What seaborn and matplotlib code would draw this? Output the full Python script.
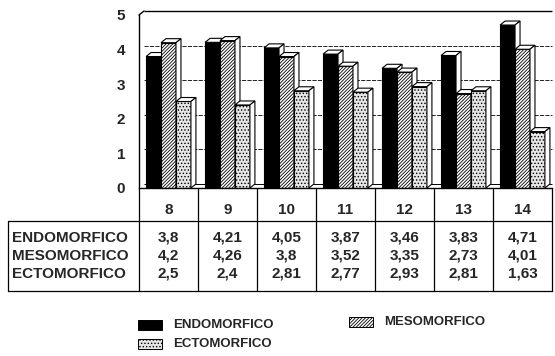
import numpy as np
import pandas as pd
import matplotlib
matplotlib.use("Agg")
import matplotlib.pyplot as plt
from matplotlib.patches import Polygon, Rectangle
from matplotlib.lines import Line2D
import seaborn as sns

# --- data -------------------------------------------------------------
edades = ["8", "9", "10", "11", "12", "13", "14"]
series = ["ENDOMORFICO", "MESOMORFICO", "ECTOMORFICO"]
endomorfico = [3.8, 4.21, 4.05, 3.87, 3.46, 3.83, 4.71]
mesomorfico = [4.2, 4.26, 3.8, 3.52, 3.35, 2.73, 4.01]
ectomorfico = [2.5, 2.4, 2.81, 2.77, 2.93, 2.81, 1.63]
y_ticks = [0, 1, 2, 3, 4, 5]

valores = [endomorfico, mesomorfico, ectomorfico]
df = pd.DataFrame({
    "edad": np.repeat([edades], 3, axis=0).ravel(),
    "tipo": np.repeat(series, len(edades)),
    "valor": np.concatenate(valores),
})

# --- style ------------------------------------------------------------
sns.set_theme(style="white")
plt.rcParams["font.family"] = ["Liberation Sans", "DejaVu Sans"]
plt.rcParams["font.weight"] = "bold"
plt.rcParams["hatch.linewidth"] = 0.6

W, H = 555, 356
fig = plt.figure(figsize=(W / 100, H / 100), dpi=100)
fig.patch.set_facecolor("white")

# axes placement in pixels (from top-left)
ax_l, ax_r, ax_top, ax_bot = 139, 552, 15, 188
ax = fig.add_axes([ax_l / W, 1 - ax_bot / H, (ax_r - ax_l) / W, (ax_bot - ax_top) / H])

faces = ["black", "white", "#e6e6e6"]
hatches = [None, "//////////", "....."]

sns.barplot(data=df, x="edad", y="valor", hue="tipo", order=edades,
            hue_order=series, palette=faces, width=0.76, edgecolor="black",
            linewidth=0.8, saturation=1, legend=False, ax=ax)

ax.set_xlim(-0.5, len(edades) - 0.5)
ax.set_ylim(0, 5)

# depth of the pseudo-3D boxes, in pixels, converted to data units
px_x = (ax_r - ax_l) / len(edades)
px_y = (ax_bot - ax_top) / 5
dxp, dyp = 5, 4
ddx, ddy = dxp / px_x, dyp / px_y

# back wall: dashed grid, top edge and floor
for v in y_ticks[1:-1]:
    ax.hlines(v + ddy, -0.5 + ddx, len(edades) - 0.5, colors="black",
              linestyles=(0, (5, 1.5)), linewidth=0.6, zorder=0.5, clip_on=False)
ax.hlines(5 + ddy, -0.5 + ddx, len(edades) - 0.5, colors="black",
          linewidth=1.0, zorder=0.5, clip_on=False)
ax.plot([-0.5, -0.5 + ddx], [5, 5 + ddy], color="black", lw=1.0, clip_on=False)
ax.hlines(ddy, -0.5 + ddx, len(edades) - 0.5, colors="black",
          linewidth=0.7, zorder=0.5, clip_on=False)

# hatches, stacking order and 3D faces for each bar
for k, cont in enumerate(ax.containers):
    for bar in cont:
        if hatches[k]:
            bar.set_hatch(hatches[k])
        z = 2 + 0.1 * k
        bar.set_zorder(z)
        x0 = bar.get_x()
        x1 = x0 + bar.get_width()
        h = bar.get_height()
        top = Polygon([(x0, h), (x1, h), (x1 + ddx, h + ddy), (x0 + ddx, h + ddy)],
                      closed=True, facecolor="white", edgecolor="black",
                      linewidth=0.8, zorder=z, clip_on=False)
        side = Polygon([(x1, 0), (x1, h), (x1 + ddx, h + ddy), (x1 + ddx, ddy)],
                       closed=True, facecolor="white", edgecolor="black",
                       linewidth=0.8, zorder=z, clip_on=False)
        ax.add_patch(top)
        ax.add_patch(side)

# axes styling
for s in ["top", "right"]:
    ax.spines[s].set_visible(False)
for s in ["left", "bottom"]:
    ax.spines[s].set_color("black")
    ax.spines[s].set_linewidth(1.0)
ax.set_yticks(y_ticks)
ax.set_yticklabels([str(t) for t in y_ticks], fontsize=11, fontweight="bold")
ax.tick_params(axis="y", direction="out", length=4, width=0.8, color="black", pad=6)
ax.tick_params(axis="x", direction="out", length=5, width=0.8, color="black",
               labelbottom=False)
ax.set_xlabel("")
ax.set_ylabel("")
ax.grid(False)

# --- data table below the plot ---------------------------------------
def fy(py):
    return 1 - py / H

def fx_data(x):
    disp = ax.transData.transform((x, 0))
    return fig.transFigure.inverted().transform(disp)[0]

tbl_left = 8
head_y, sep_y, bot_y = 210, 221, 291
row_y = [238, 256, 274]

def fline(xs, ys, lw=0.9):
    fig.add_artist(Line2D(xs, ys, color="black", linewidth=lw,
                          transform=fig.transFigure))

x_right = fx_data(len(edades) - 0.5)
fline([tbl_left / W, x_right], [fy(sep_y)] * 2)
fline([tbl_left / W, x_right], [fy(bot_y)] * 2)
fline([tbl_left / W] * 2, [fy(sep_y), fy(bot_y)])
for i in range(len(edades) + 1):
    xb = fx_data(i - 0.5)
    fline([xb, xb], [fy(ax_bot), fy(bot_y)])

fs_tab = 11
for i, e in enumerate(edades):
    xc = fx_data(i)
    fig.text(xc, fy(head_y), e, ha="center", va="center", fontsize=fs_tab,
             fontweight="bold")
    for r, vals in enumerate(valores):
        txt = f"{vals[i]:.2f}".rstrip("0").replace(".", ",")
        fig.text(xc, fy(row_y[r]), txt, ha="center", va="center",
                 fontsize=fs_tab, fontweight="bold")
for r, name in enumerate(series):
    fig.text(12 / W, fy(row_y[r]), name, ha="left", va="center",
             fontsize=fs_tab, fontweight="bold")

# --- legend -----------------------------------------------------------
leg = [(138, 325, 0), (349, 322, 1), (138, 344, 2)]
for px, py, k in leg:
    fig.add_artist(Rectangle((px / W, fy(py + 5)), 24 / W, 10 / H,
                             transform=fig.transFigure, facecolor=faces[k],
                             edgecolor="black", linewidth=0.7,
                             hatch=hatches[k]))
    fig.text((px + 35) / W, fy(py), series[k], ha="left", va="center",
             fontsize=9.5, fontweight="bold")

fig.savefig("out.png", dpi=100)
